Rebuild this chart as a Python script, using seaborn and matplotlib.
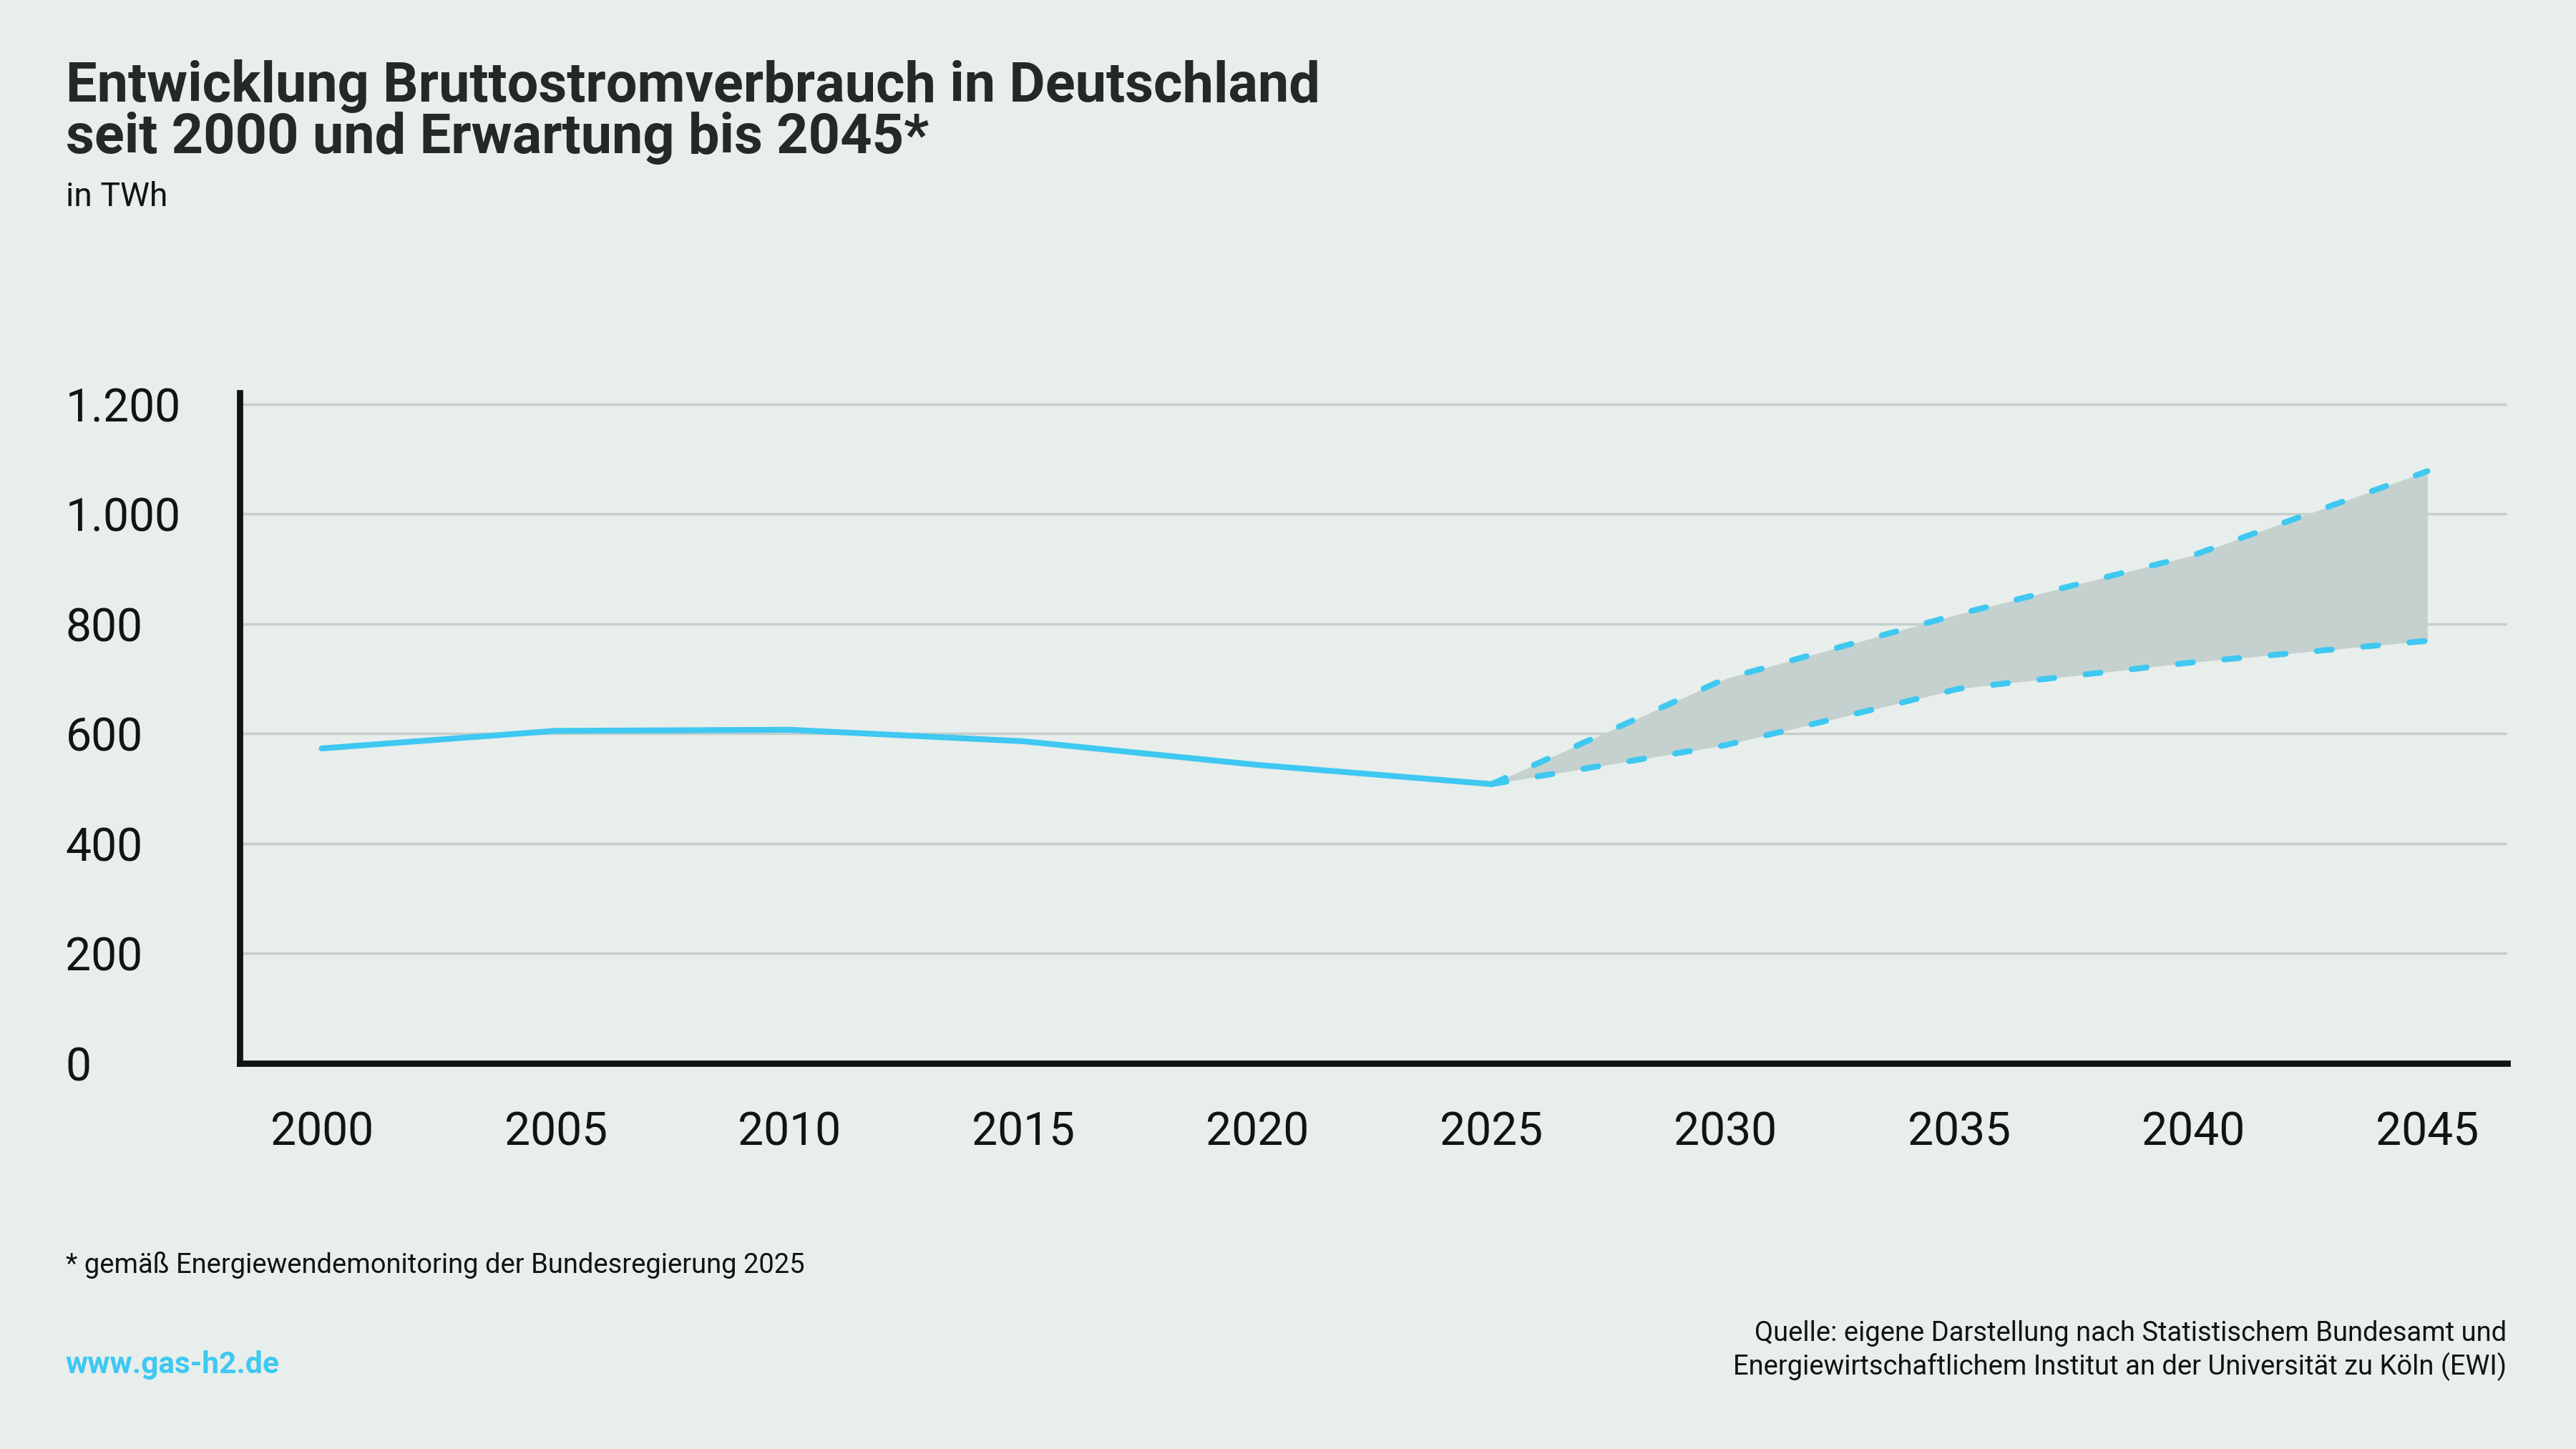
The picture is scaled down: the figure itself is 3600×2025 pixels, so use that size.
"""Bruttostromverbrauch in Deutschland, 2000-2045."""

import matplotlib

matplotlib.use("Agg")

import matplotlib.pyplot as plt
import pandas as pd
import seaborn as sns

# historic values (TWh)
hist_years = [2000, 2005, 2010, 2015, 2020, 2025]
hist_twh = [573, 605, 607, 586, 543, 508]

# expected range until 2045 (TWh)
proj_years = [2025, 2030, 2035, 2040, 2045]
proj_high = [508, 700, 818, 925, 1078]
proj_low = [508, 579, 682, 730, 769]

y_ticks = [0, 200, 400, 600, 800, 1000, 1200]
y_labels = ["0", "200", "400", "600", "800", "1.000", "1.200"]
x_ticks = [2000, 2005, 2010, 2015, 2020, 2025, 2030, 2035, 2040, 2045]

title = "Entwicklung Bruttostromverbrauch in Deutschland\nseit 2000 und Erwartung bis 2045*"
unit = "in TWh"
footnote = "* gemäß Energiewendemonitoring der Bundesregierung 2025"
website = "www.gas-h2.de"
source = ("Quelle: eigene Darstellung nach Statistischem Bundesamt und\n"
          "Energiewirtschaftlichem Institut an der Universität zu Köln (EWI)")

BG = "#e8eeeb"
BLUE = "#3ec8f2"
FILL = "#c5d1cf"
GRID = "#c4cfcc"
INK = "#101414"

sns.set_theme(style="white")
plt.rcParams["font.family"] = ["Roboto", "DejaVu Sans"]

hist = pd.DataFrame({"year": hist_years, "twh": hist_twh})
proj = pd.DataFrame({"year": proj_years, "high": proj_high, "low": proj_low})

fig = plt.figure(figsize=(16, 9), dpi=225, facecolor=BG)
ax = fig.add_axes([0.0931, 0.2664, 0.8801, 0.4626])
ax.set_facecolor(BG)

ax.fill_between(proj["year"], proj["low"], proj["high"], color=FILL, linewidth=0, zorder=2)
sns.lineplot(data=hist, x="year", y="twh", ax=ax, color=BLUE, linewidth=2.6,
             solid_capstyle="round", zorder=4)
for col in ["high", "low"]:
    sns.lineplot(data=proj, x="year", y=col, ax=ax, color=BLUE, linewidth=2.6,
                 linestyle=(0, (2.6, 5.4)), dash_capstyle="round", zorder=4)

ax.set_xlim(1998.25, 2046.7)
ax.set_ylim(0, 1221)
ax.set_yticks(y_ticks)
ax.set_yticklabels(y_labels, ha="left", fontsize=20.5, color=INK)
ax.set_xticks(x_ticks)
ax.set_xticklabels([str(y) for y in x_ticks], fontsize=20.5, color=INK)
ax.tick_params(axis="y", length=0, pad=78)
ax.tick_params(axis="x", length=0, pad=21)
ax.set_xlabel("")
ax.set_ylabel("")

ax.grid(axis="y", color=GRID, linewidth=1.1, zorder=1)
ax.grid(axis="x", visible=False)
for side in ["top", "right"]:
    ax.spines[side].set_visible(False)
for side in ["left", "bottom"]:
    ax.spines[side].set_color(INK)
    ax.spines[side].set_linewidth(2.8)
    ax.spines[side].set_zorder(5)

fig.text(0.0255, 0.959, title, ha="left", va="top", fontsize=24.8, fontweight="bold",
         color="#232829", linespacing=0.96)
fig.text(0.0255, 0.864, unit, ha="left", va="center", fontsize=14.8, color=INK)
fig.text(0.0255, 0.127, footnote, ha="left", va="center", fontsize=12.2, color=INK)
fig.text(0.0255, 0.058, website, ha="left", va="center", fontsize=13.6, fontweight="bold",
         color=BLUE)
fig.text(0.973, 0.0515, source, ha="right", va="baseline", fontsize=12.2, color=INK,
         linespacing=1.25)

fig.savefig("out.png", dpi=225, facecolor=BG)
plt.close(fig)
